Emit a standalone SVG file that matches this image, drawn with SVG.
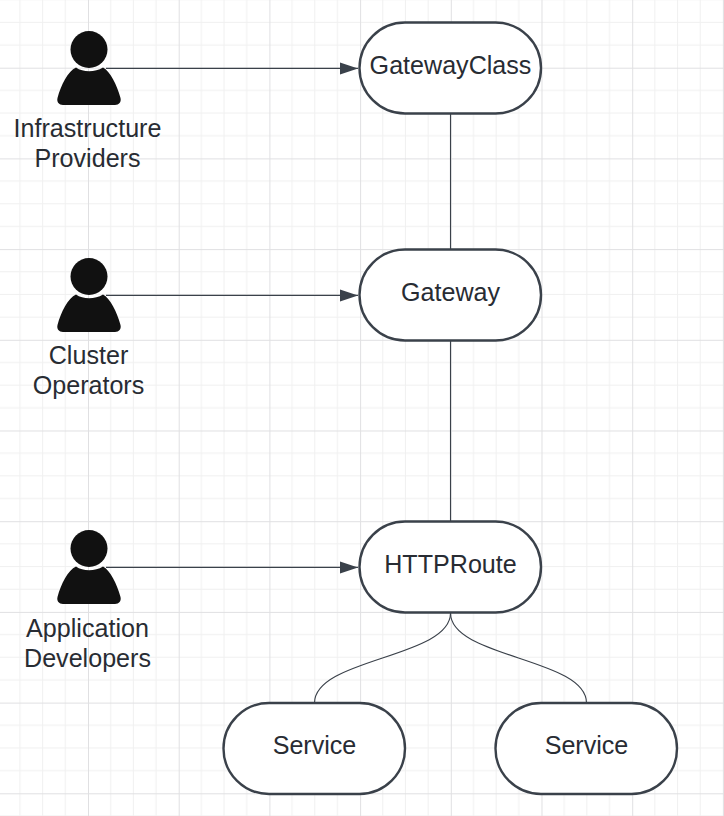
<svg xmlns="http://www.w3.org/2000/svg" width="724" height="816" viewBox="0 0 724 816">
<style>
.n{fill:#fff;stroke:#3a414a;stroke-width:2.4}
.c{fill:none;stroke:#3a414a;stroke-width:1.1}
text{font-family:"Liberation Sans",Arial,sans-serif;font-size:25.1px;fill:#282c33;text-anchor:middle}
.p{fill:#111}
</style>
<defs>
<pattern id="g" patternUnits="userSpaceOnUse" x="-2.7" y="-23" width="90.7" height="90.7">
<path d="M22.7 0V90.7M45.35 0V90.7M68 0V90.7M0 22.7H90.7M0 45.35H90.7M0 68H90.7" fill="none" stroke="#f0f0f0" stroke-width="1"/>
<path d="M0.5 0V90.7M0 0.5H90.7" fill="none" stroke="#e0e0e2" stroke-width="1"/>
</pattern>
<marker id="a" markerUnits="userSpaceOnUse" markerWidth="20" markerHeight="14" refX="18" refY="6" orient="auto"><path d="M0 0L18 6L0 12Z" fill="#3a414a"/></marker>
<g id="person"><circle cx="89" cy="49.500" r="18.500" class="p"/><path class="p" d="M76 67.500C83 72.500 95 72.500 103 67.500C110 71 117 85 120.500 98C121.500 102 119 105 115 105H63C59 105 56.500 102 57.500 98C61 85 68 71 76 67.500Z"/></g>
</defs>
<rect width="724" height="816" fill="#fff"/>
<rect width="724" height="816" fill="url(#g)"/>
<g id="connectors">
<path class="c" d="M106 68.400H358" marker-end="url(#a)"/>
<path class="c" d="M106 295.400H358" marker-end="url(#a)"/>
<path class="c" d="M106 567.400H358" marker-end="url(#a)"/>
<path class="c" d="M450.500 113V250M450.500 340V522"/>
<path class="c" d="M450.500 613C450.500 658 314.500 658 314.500 703"/>
<path class="c" d="M450.500 613C450.500 658 586.500 658 586.500 703"/>
</g>
<g id="actor-infrastructure"><use href="#person"/><text x="87.500" y="137">Infrastructure</text><text x="87.500" y="167">Providers</text></g>
<g id="actor-cluster"><use href="#person" y="227"/><text x="88.500" y="364">Cluster</text><text x="88.500" y="394">Operators</text></g>
<g id="actor-application"><use href="#person" y="499"/><text x="87.500" y="636.500">Application</text><text x="87.500" y="666.500">Developers</text></g>
<g id="gatewayclass"><rect class="n" x="359.500" y="22.500" width="181.500" height="91" rx="45.500"/><text x="450.500" y="73.500">GatewayClass</text></g>
<g id="gateway"><rect class="n" x="359.500" y="249.500" width="181.500" height="91" rx="45.500"/><text x="450.500" y="300.500">Gateway</text></g>
<g id="httproute"><rect class="n" x="359.500" y="521.500" width="181.500" height="91" rx="45.500"/><text x="450.500" y="573">HTTPRoute</text></g>
<g id="service-1"><rect class="n" x="223.500" y="703" width="181.500" height="91" rx="45.500"/><text x="314.500" y="754">Service</text></g>
<g id="service-2"><rect class="n" x="495.500" y="703" width="181.500" height="91" rx="45.500"/><text x="586.500" y="754">Service</text></g>
</svg>
